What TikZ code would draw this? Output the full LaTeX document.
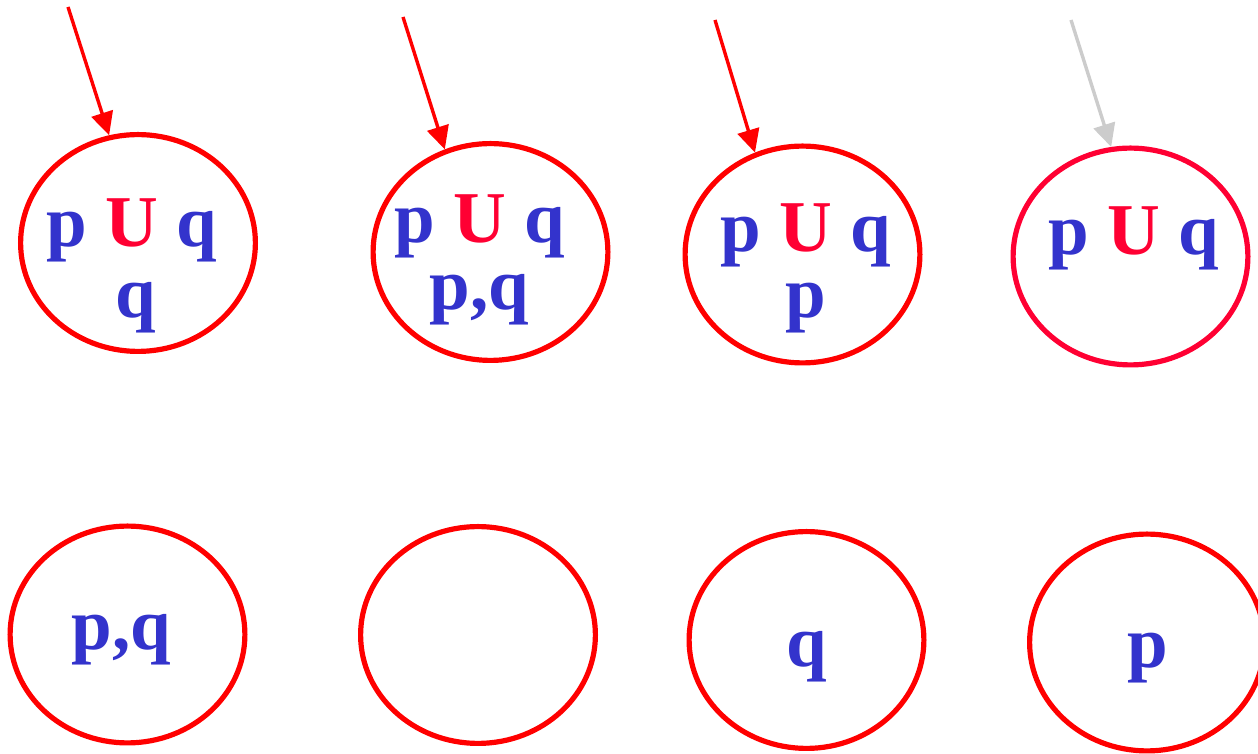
\documentclass[tikz,border=0pt]{standalone}
\usepackage{fontspec}
\setmainfont{Liberation Serif}
\usetikzlibrary{shapes.geometric,arrows.meta}
\definecolor{blu}{HTML}{3333CC}
\definecolor{ured}{HTML}{FF0033}
\definecolor{ered}{HTML}{FF0000}
\definecolor{agray}{HTML}{CCCCCC}
\begin{document}
\begin{tikzpicture}[x=1pt,y=1pt,
  st/.style={ellipse,draw=ered,line width=5.2pt,minimum width=234.8pt,minimum height=216.8pt,inner sep=0pt},
  lbl/.style={anchor=base,inner sep=0pt,text=blu,font=\fontsize{73}{73}\selectfont\bfseries},
  arr/.style={draw=ered,line width=3.4pt,-{Triangle[length=23pt,width=22pt]}},
  garr/.style={arr,draw=agray}]
\useasboundingbox (0,0) rectangle (1258,754);
\newcommand\UU{{\color{ured}U}}
% top row
\node[st] (e1) at (138,511) {};
\node[st] (e2) at (490.5,502) {};
\node[st] (e3) at (802.5,499.5) {};
\node[st,draw=ured] (e4) at (1130.5,497.5) {};
% bottom row
\node[st] (e5) at (127.5,119.5) {};
\node[st] (e6) at (478,119) {};
\node[st] (e7) at (806.5,114) {};
\node[st] (e8) at (1147,111.5) {};
% labels
\node[lbl] (t1a) at (131.5,507) {p \UU{} q};
\node[lbl] (t1b) at (136,436) {q};
\node[lbl] (t2a) at (479.5,511) {p \UU{} q};
\node[lbl] (t2b) at (479.5,444) {p,q};
\node[lbl] (t3a) at (806,502) {p \UU{} q};
\node[lbl] (t3b) at (806,436) {p};
\node[lbl] (t4a) at (1134,499) {p \UU{} q};
\node[lbl] (t5) at (121.5,104) {p,q};
\node[lbl] (t7) at (806.5,87) {q};
\node[lbl] (t8) at (1148,86) {p};
% initial arrows
\coordinate (s1) at (68,747);
\coordinate (s2) at (403,737);
\coordinate (s3) at (715,734);
\coordinate (s4) at (1071,734);
\draw[arr] (s1) -- (e1.105);
\draw[arr] (s2) -- (e2.114);
\draw[arr] (s3) -- (e3.115);
\draw[garr] (s4) -- (e4.100);
\end{tikzpicture}
\end{document}
